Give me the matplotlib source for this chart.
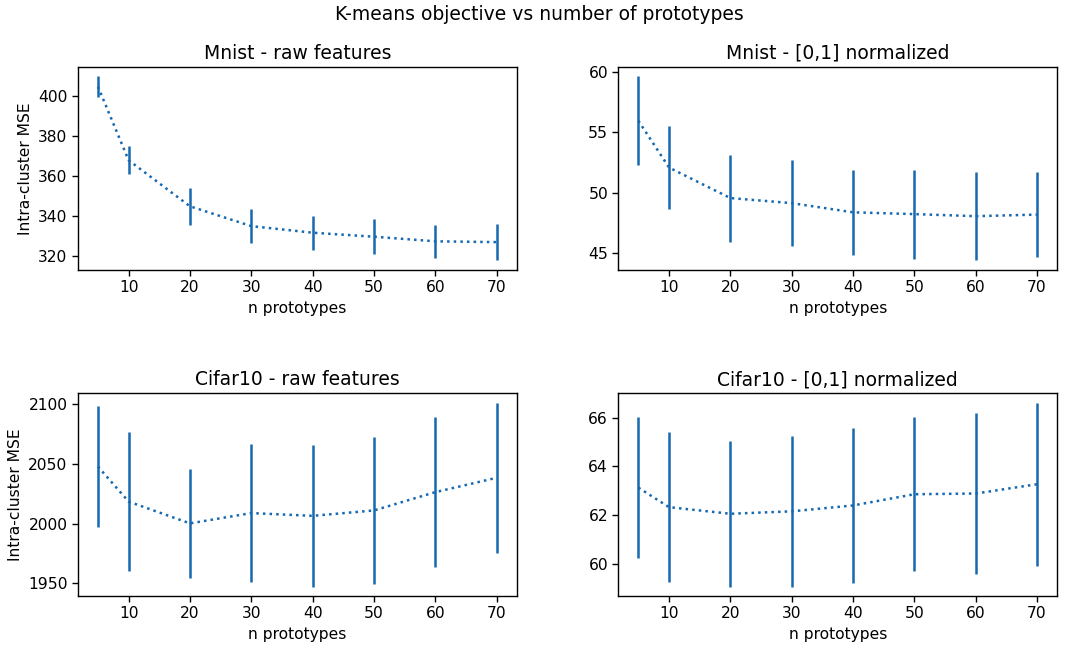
import matplotlib
matplotlib.use("Agg")
import matplotlib.pyplot as plt

n_prototypes = [5, 10, 20, 30, 40, 50, 60, 70]

mnist_raw_mean = [404.8, 368.0, 345.0, 335.1, 331.8, 329.8, 327.5, 327.1]
mnist_raw_err = [5.2, 7.0, 9.2, 8.4, 8.5, 8.8, 8.3, 9.1]

mnist_norm_mean = [55.96, 52.08, 49.55, 49.13, 48.37, 48.22, 48.05, 48.18]
mnist_norm_err = [3.69, 3.44, 3.60, 3.55, 3.54, 3.69, 3.66, 3.54]

cifar_raw_mean = [2047.7, 2018.4, 2000.2, 2008.8, 2006.5, 2011.0, 2026.3, 2038.3]
cifar_raw_err = [50.7, 58.3, 45.5, 57.9, 59.3, 61.6, 62.5, 62.8]

cifar_norm_mean = [63.13, 62.33, 62.06, 62.16, 62.40, 62.86, 62.89, 63.27]
cifar_norm_err = [2.90, 3.08, 2.99, 3.09, 3.16, 3.16, 3.31, 3.34]

titles = ["Mnist - raw features", "Mnist - [0,1] normalized",
          "Cifar10 - raw features", "Cifar10 - [0,1] normalized"]

panels = [
    (mnist_raw_mean, mnist_raw_err),
    (mnist_norm_mean, mnist_norm_err),
    (cifar_raw_mean, cifar_raw_err),
    (cifar_norm_mean, cifar_norm_err),
]

color = "#1668b0"

plt.rcParams["axes.linewidth"] = 1.0
plt.rcParams["xtick.major.width"] = 1.0
plt.rcParams["ytick.major.width"] = 1.0
plt.rcParams["xtick.major.size"] = 4
plt.rcParams["ytick.major.size"] = 4

fig, axes = plt.subplots(2, 2, figsize=(10.79, 6.5), dpi=100)
fig.subplots_adjust(left=0.0723, right=0.9796, bottom=0.0831, top=0.8969,
                    wspace=0.2323, hspace=0.612)
fig.suptitle("K-means objective vs number of prototypes", fontsize=13.5, y=0.992)

for i, (ax, (mean, err), title) in enumerate(zip(axes.flat, panels, titles)):
    ax.errorbar(n_prototypes, mean, yerr=err, fmt="none", ecolor=color,
                elinewidth=1.8, capsize=0)
    ax.plot(n_prototypes, mean, linestyle=":", color=color, linewidth=1.8)
    ax.set_title(title, fontsize=13.5)
    ax.set_xlabel("n prototypes", fontsize=11.2)
    ax.set_xticks([10, 20, 30, 40, 50, 60, 70])
    ax.tick_params(labelsize=11.2)
    if i % 2 == 0:
        ax.set_ylabel("Intra-cluster MSE", fontsize=11.2)

axes[0, 0].set_yticks([320, 340, 360, 380, 400])
axes[0, 1].set_yticks([45, 50, 55, 60])
axes[1, 0].set_yticks([1950, 2000, 2050, 2100])
axes[1, 1].set_yticks([60, 62, 64, 66])

fig.savefig("out.png", dpi=100)
